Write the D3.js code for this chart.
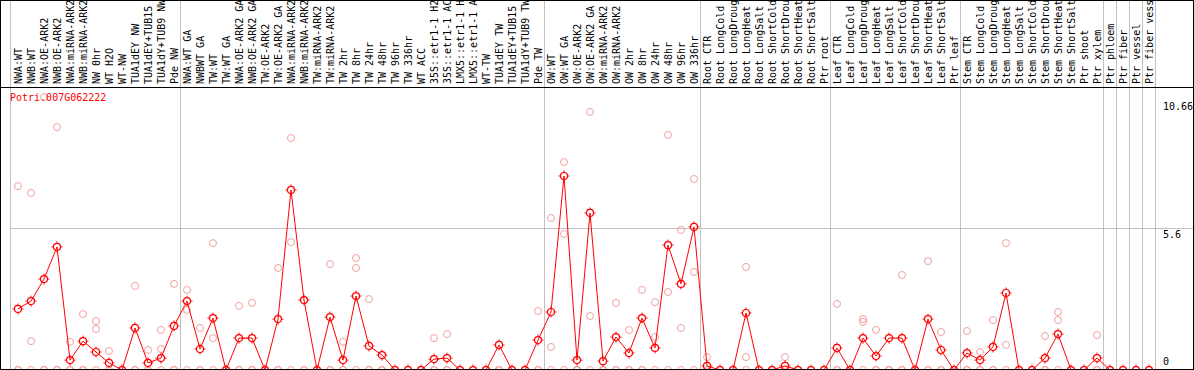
<!DOCTYPE html>
<html><head><meta charset="utf-8">
<script src="https://cdn.jsdelivr.net/npm/d3@7"></script>
<style>html,body{margin:0;padding:0;background:#fff;}svg{display:block;}</style>
</head><body>
<script>
const categories = ["NWA:WT","NWB:WT","NWA:OE-ARK2","NWB:OE-ARK2","NWA:miRNA-ARK2","NWB:miRNA-ARK2","NW 0hr","WT H2O","WT-NW","TUA1dEY NW","TUA1dEY+TUB15 NW","TUA1dY+TUB9 NW","Pde NW",
"NWA:WT GA","NWBWT GA","TW:WT","TW:WT GA","NWA:OE-ARK2 GA","NWB:OE-ARK2 GA","TW:OE-ARK2","TW:OE-ARK2 GA","NWA:miRNA-ARK2","NWB:miRNA-ARK2","TW:miRNA-ARK2","TW:miRNA-ARK2","TW 2hr","TW 8hr","TW 24hr","TW 48hr","TW 96hr","TW 336hr","WT ACC","35S::etr1-1 H2O","35S::etr1-1 ACC","LMX5::etr1-1 H2O","LMX5::etr1-1 ACC","WT-TW","TUA1dEY TW","TUA1dEY+TUB15 TW","TUA1dY+TUB9 TW","Pde TW",
"OW:WT","OW:WT GA","OW:OE-ARK2","OW:OE-ARK2 GA","OW:miRNA-ARK2","OW:miRNA-ARK2","OW 2hr","OW 8hr","OW 24hr","OW 48hr","OW 96hr","OW 336hr",
"Root CTR","Root LongCold","Root LongDrought","Root LongHeat","Root LongSalt","Root ShortCold","Root ShortDrought","Root ShortHeat","Root ShortSalt","Ptr root",
"Leaf CTR","Leaf LongCold","Leaf LongDrought","Leaf LongHeat","Leaf LongSalt","Leaf ShortCold","Leaf ShortDrought","Leaf ShortHeat","Leaf ShortSalt","Ptr leaf",
"Stem CTR","Stem LongCold","Stem LongDrought","Stem LongHeat","Stem LongSalt","Stem ShortCold","Stem ShortDrought","Stem ShortHeat","Stem ShortSalt","Ptr shoot",
"Ptr xylem","Ptr phloem","Ptr fiber","Ptr vessel","Ptr fiber vessel"];

const meanValues = [2.41,2.72,3.59,4.86,0.39,1.14,0.71,0.28,0,1.66,0.28,0.47,1.74,
2.72,0.83,2.05,0,1.26,1.26,0,2.01,7.11,2.76,0,2.09,0.39,2.92,0.95,0.59,0,0,0,0.43,0.47,0,0,0,0.99,0,0,1.18,
2.29,7.66,0.39,6.2,0.35,1.3,0.67,2.05,0.87,4.93,3.4,5.65,
0.16,0,0,2.25,0,0,0.16,0,0,0,
0.87,0,1.26,0.55,1.26,1.26,0,2.01,0.79,0,
0.67,0.39,0.91,3.04,0,0,0.47,1.42,0,0,
0.47,0,0,0,0];

const rep1 = [7.26,6.99,10.78,9.59,1.11,2.21,1.93,0.75,0,3.32,0.79,1.58,3.4,
3.16,1.66,5.01,0,2.53,2.65,0,4.03,9.16,2.76,0,4.18,1.11,4.42,2.8,0,0,0,0,1.26,1.42,0,0,0,0,0,0,2.33,
6.0,8.21,0,10.19,0,2.65,1.58,3.16,2.68,9.28,5.53,7.54,
0.51,0,0,4.07,0,0,0.51,0,0,0,
2.61,0,2.01,1.58,0,3.75,0,4.3,1.5,0,
1.54,0.71,1.97,5.01,0,0,1.34,2.29,0,0,
1.38,0,0,0,0];

const rep2 = [0,1.14,0,0,0,0,1.62,0,0,0,0,0.83,0,
2.37,0,1.26,0,0,0,0,0,5.05,0,0,0,0,4.03,0,0,0,0,0,0,0,0,0,0,0,0,0,0,
0.91,5.37,0,2.13,0,0,0,0,1.3,3.08,1.66,3.87,
0,0,0,0.51,0,0,0,0,0,0,
0,0,1.9,0,0,0,0,0,0,0,
0,0,0,0.99,0,0,0,1.97,0,0,
0,0,0,0,0];

const rep3 = new Array(88).fill(0);
const yTicks = [0, 5.6, 10.66];
const groupEnds = [-1, 12, 40, 52, 62, 72, 83, 84, 85, 86, 87];
const geneName = "Potri.007G062222";

const W = 1194, H = 370;
const svg = d3.select("body").append("svg").attr("width", W).attr("height", H);
const x = d3.scaleBand().domain(d3.range(categories.length)).range([11.5, 11.5 + 13 * categories.length]);
const cx = i => x(i) + x.bandwidth() / 2;
const y = d3.scaleLinear().domain([0, 10.66]).range([370, 100]);
const FONT = "'DejaVu Sans Mono', 'Liberation Mono', monospace";

svg.append("g").selectAll("line").data(yTicks.filter(t => t > 0 && t < 10.66)).join("line")
  .attr("x1", 11).attr("x2", W - 1).attr("y1", d => Math.round(y(d)) + 0.5).attr("y2", d => Math.round(y(d)) + 0.5)
  .attr("stroke", "#c0c0c0").attr("stroke-width", 1);

svg.append("g").selectAll("line").data(groupEnds).join("line")
  .attr("x1", d => d < 0 ? x(0) - 1 : x(d) + x.bandwidth()).attr("x2", d => d < 0 ? x(0) - 1 : x(d) + x.bandwidth())
  .attr("y1", 0).attr("y2", H).attr("stroke", "#c0c0c0").attr("stroke-width", 1);

svg.append("line").attr("x1", 0).attr("x2", W).attr("y1", 87.5).attr("y2", 87.5).attr("stroke", "#000");

svg.append("g").selectAll("text").data(categories).join("text")
  .attr("transform", (d, i) => `translate(${cx(i) + 4},84) rotate(-90)`)
  .attr("font-family", FONT).attr("font-size", 10).attr("fill", "#000").text(d => d);

const reps = [];
[rep1, rep2, rep3].forEach(r => r.forEach((v, i) => reps.push({ i, v })));
svg.append("g").selectAll("circle").data(reps).join("circle")
  .attr("cx", d => cx(d.i)).attr("cy", d => y(d.v)).attr("r", 3.5)
  .attr("fill", "none").attr("stroke", "#f2a0a0").attr("stroke-width", 1);

svg.append("path").datum(meanValues)
  .attr("d", d3.line().x((d, i) => cx(i)).y(d => y(d)))
  .attr("fill", "none").attr("stroke", "#ff0000").attr("stroke-width", 1);

const mg = svg.append("g").selectAll("g").data(meanValues).join("g")
  .attr("transform", (d, i) => `translate(${cx(i)},${y(d)})`);
mg.append("circle").attr("r", 3.5).attr("fill", "none").attr("stroke", "#ff0000").attr("stroke-width", 1.2);
[[0, -3.5, 0, -5.5], [0, 3.5, 0, 5.5], [-3.5, 0, -5.5, 0], [3.5, 0, 5.5, 0]].forEach(s => {
  mg.append("line").attr("x1", s[0]).attr("y1", s[1]).attr("x2", s[2]).attr("y2", s[3]).attr("stroke", "#ff0000");
});

svg.append("text").attr("x", 10).attr("y", 101).attr("font-family", FONT).attr("font-size", 10)
  .attr("fill", "#ff0000").text(geneName);

svg.append("g").selectAll("text").data(yTicks).join("text")
  .attr("x", 1163).attr("y", d => Math.min(y(d) + 10, 365))
  .attr("font-family", FONT).attr("font-size", 10).attr("fill", "#000")
  .text(d => d === 0 ? "0" : String(d));

svg.append("rect").attr("x", 0).attr("y", 0).attr("width", W).attr("height", H)
  .attr("fill", "none").attr("stroke", "#000").attr("stroke-width", 2);
</script>
</body></html>
